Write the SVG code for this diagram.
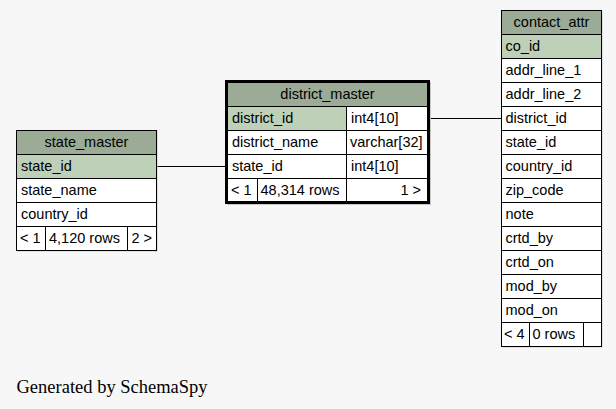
<svg xmlns="http://www.w3.org/2000/svg" width="616" height="409" viewBox="0 0 616 409">
<style>
.t{font-family:"Liberation Sans",Arial,sans-serif;font-size:14.5px;fill:#000}
.c{text-anchor:middle}
.e{text-anchor:end}
.hd{fill:#9bab96}
.pk{fill:#bed1b8}
.bd{fill:#ffffff}
.ln{stroke:#000;stroke-width:1;fill:none}
.sh{fill:#c8c8c8}
.gen{font-family:"Liberation Serif","Times New Roman",serif;font-size:18.5px;fill:#000}
</style>
<rect x="0" y="0" width="616" height="409" fill="#f7f7f7"/>
<g id="connectors" class="ln">
<line x1="156.5" y1="166.5" x2="226" y2="166.5"/>
<line x1="429" y1="118.5" x2="501.5" y2="118.5"/>
</g>
<g id="state_master">
<rect class="sh" x="17.5" y="131.5" width="140" height="120"/>
<rect class="hd" x="16.5" y="130.5" width="140" height="24"/>
<rect class="pk" x="16.5" y="154.5" width="140" height="24"/>
<rect class="bd" x="16.5" y="178.5" width="140" height="72"/>
<g class="ln">
<rect x="16.5" y="130.5" width="140" height="120"/>
<line x1="16.5" y1="154.5" x2="156.5" y2="154.5"/>
<line x1="16.5" y1="178.5" x2="156.5" y2="178.5"/>
<line x1="16.5" y1="202.5" x2="156.5" y2="202.5"/>
<line x1="16.5" y1="226.5" x2="156.5" y2="226.5"/>
<line x1="45.5" y1="226.5" x2="45.5" y2="250.5"/>
<line x1="127.5" y1="226.5" x2="127.5" y2="250.5"/>
</g>
<text class="t c" x="86.5" y="146.5">state_master</text>
<text class="t" x="21" y="170.5">state_id</text>
<text class="t" x="21" y="194.5">state_name</text>
<text class="t" x="21" y="218.5">country_id</text>
<text class="t" x="20" y="242.5">&lt; 1</text>
<text class="t" x="49" y="242.5">4,120 rows</text>
<text class="t" x="131.5" y="242.5">2 &gt;</text>
</g>
<g id="district_master">
<rect class="sh" x="227" y="82" width="204" height="123"/>
<rect class="hd" x="226.5" y="81.5" width="202" height="25"/>
<rect class="pk" x="226.5" y="106.5" width="120" height="24"/>
<rect class="bd" x="346.5" y="106.5" width="82" height="24"/>
<rect class="bd" x="226.5" y="130.5" width="202" height="72"/>
<g class="ln">
<line x1="226.5" y1="106.5" x2="428.5" y2="106.5"/>
<line x1="226.5" y1="130.5" x2="428.5" y2="130.5"/>
<line x1="226.5" y1="154.5" x2="428.5" y2="154.5"/>
<line x1="226.5" y1="178.5" x2="428.5" y2="178.5"/>
<line x1="346.5" y1="106.5" x2="346.5" y2="202"/>
<line x1="257.5" y1="178.5" x2="257.5" y2="202"/>
<rect x="226.5" y="81.5" width="202" height="121" stroke-width="3"/>
</g>
<text class="t c" x="327.5" y="98.5">district_master</text>
<text class="t" x="232" y="122.5">district_id</text>
<text class="t" x="351" y="122.5">int4[10]</text>
<text class="t" x="232" y="146.5">district_name</text>
<text class="t" x="350" y="146.5">varchar[32]</text>
<text class="t" x="232" y="170.5">state_id</text>
<text class="t" x="351" y="170.5">int4[10]</text>
<text class="t" x="231" y="194.5">&lt; 1</text>
<text class="t" x="260.5" y="194.5">48,314 rows</text>
<text class="t e" x="421" y="194.5">1 &gt;</text>
</g>
<g id="contact_attr">
<rect class="sh" x="502.5" y="11.5" width="100" height="336"/>
<rect class="hd" x="501.5" y="10.5" width="100" height="24"/>
<rect class="pk" x="501.5" y="34.5" width="100" height="24"/>
<rect class="bd" x="501.5" y="58.5" width="100" height="288"/>
<g class="ln">
<rect x="501.5" y="10.5" width="100" height="336"/>
<line x1="501.5" y1="34.5" x2="601.5" y2="34.5"/>
<line x1="501.5" y1="58.5" x2="601.5" y2="58.5"/>
<line x1="501.5" y1="82.5" x2="601.5" y2="82.5"/>
<line x1="501.5" y1="106.5" x2="601.5" y2="106.5"/>
<line x1="501.5" y1="130.5" x2="601.5" y2="130.5"/>
<line x1="501.5" y1="154.5" x2="601.5" y2="154.5"/>
<line x1="501.5" y1="178.5" x2="601.5" y2="178.5"/>
<line x1="501.5" y1="202.5" x2="601.5" y2="202.5"/>
<line x1="501.5" y1="226.5" x2="601.5" y2="226.5"/>
<line x1="501.5" y1="250.5" x2="601.5" y2="250.5"/>
<line x1="501.5" y1="274.5" x2="601.5" y2="274.5"/>
<line x1="501.5" y1="298.5" x2="601.5" y2="298.5"/>
<line x1="501.5" y1="322.5" x2="601.5" y2="322.5"/>
<line x1="529.5" y1="322.5" x2="529.5" y2="346.5"/>
<line x1="583.5" y1="322.5" x2="583.5" y2="346.5"/>
</g>
<text class="t c" x="551.5" y="26.5">contact_attr</text>
<text class="t" x="505.5" y="50.5">co_id</text>
<text class="t" x="505.5" y="74.5">addr_line_1</text>
<text class="t" x="505.5" y="98.5">addr_line_2</text>
<text class="t" x="505.5" y="122.5">district_id</text>
<text class="t" x="505.5" y="146.5">state_id</text>
<text class="t" x="505.5" y="170.5">country_id</text>
<text class="t" x="505.5" y="194.5">zip_code</text>
<text class="t" x="505.5" y="218.5">note</text>
<text class="t" x="505.5" y="242.5">crtd_by</text>
<text class="t" x="505.5" y="266.5">crtd_on</text>
<text class="t" x="505.5" y="290.5">mod_by</text>
<text class="t" x="505.5" y="314.5">mod_on</text>
<text class="t" x="504" y="338.5">&lt; 4</text>
<text class="t" x="532.5" y="338.5">0 rows</text>
</g>
<text class="gen" x="16.5" y="392.5">Generated by SchemaSpy</text>
</svg>
